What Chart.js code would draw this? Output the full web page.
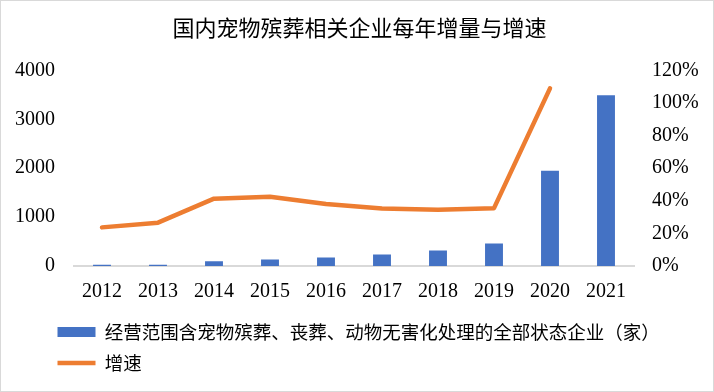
<!doctype html>
<html>
  <head>
    <title>国内宠物殡葬相关企业每年增量与增速</title>
    <style>
      body { margin: 0; background: #fff; }
      #box { width: 714px; height: 392px; box-sizing: border-box; border: 1px solid #d9d9d9; }
    </style>
  </head>
  <body>
    <div id="box">
      <canvas id="myChart" width="712" height="390"></canvas>
    </div>
  </body>
  <script src="https://cdn.jsdelivr.net/npm/chart.js"></script>
  <script>
    const years = ['2012', '2013', '2014', '2015', '2016', '2017', '2018', '2019', '2020', '2021'];
    const companies = [25, 25, 95, 135, 175, 237, 318, 461, 1950, 3490];
    const growth = [0.237, 0.266, 0.413, 0.425, 0.38, 0.353, 0.345, 0.355, 1.09, null];
    const leftTicks = [0, 1000, 2000, 3000, 4000];
    const rightTicks = [0, 0.2, 0.4, 0.6, 0.8, 1.0, 1.2];

    const tickFont = { family: "'Liberation Serif', 'Times New Roman', serif", size: 20 };
    const cjkFont = "'Noto Sans CJK SC', sans-serif";

    // legend sits further right than the layout padding would put it
    const legendShift = {
      id: 'legendShift',
      afterLayout(chart) {
        chart.legend.left = 44;
      }
    };

    const ctx = document.getElementById('myChart');
    const chart = new Chart(ctx, {
      type: 'bar',
      data: {
        labels: years,
        datasets: [{
          label: '经营范围含宠物殡葬、丧葬、动物无害化处理的全部状态企业（家）',
          data: companies,
          backgroundColor: '#4472C4',
          borderWidth: 0,
          barPercentage: 0.32,
          categoryPercentage: 1,
          yAxisID: 'y',
          pointStyle: 'rect',
          order: 0
        }, {
          type: 'line',
          label: '增速',
          data: growth,
          borderColor: '#ED7D31',
          backgroundColor: '#ED7D31',
          borderWidth: 4.5,
          borderCapStyle: 'round',
          borderJoinStyle: 'round',
          pointRadius: 0,
          pointStyle: 'line',
          tension: 0,
          yAxisID: 'y1',
          order: 1
        }]
      },
      plugins: [legendShift],
      options: {
        responsive: false,
        animation: false,
        layout: { padding: { left: 14, right: 9, top: 0, bottom: 8.75 } },
        plugins: {
          title: {
            display: true,
            text: '国内宠物殡葬相关企业每年增量与增速',
            color: '#000',
            font: { family: cjkFont, size: 22, weight: 'normal' },
            padding: { top: 13, bottom: 30 }
          },
          legend: {
            position: 'bottom',
            align: 'start',
            labels: {
              usePointStyle: true,
              pointStyleWidth: 38,
              boxHeight: 10,
              padding: 12.5,
              color: '#000',
              font: { family: cjkFont, size: 18.5 }
            }
          },
          tooltip: { enabled: false }
        },
        scales: {
          x: {
            grid: { display: false, drawTicks: false },
            border: { display: true, color: '#d9d9d9', width: 2 },
            ticks: { color: '#000', font: tickFont, padding: 14, maxRotation: 0 },
            afterFit: (s) => { s.height = 44.25; }
          },
          y: {
            position: 'left',
            min: 0,
            max: 4000,
            grid: { display: false, drawTicks: false },
            border: { display: false },
            afterBuildTicks: (s) => { s.ticks = leftTicks.map(v => ({ value: v })); },
            ticks: { color: '#000', font: tickFont, padding: 19, callback: (v) => String(v) },
            afterFit: (s) => { s.width = 59; }
          },
          y1: {
            position: 'right',
            min: 0,
            max: 1.2,
            grid: { display: false, drawTicks: false },
            border: { display: false },
            afterBuildTicks: (s) => { s.ticks = rightTicks.map(v => ({ value: v })); },
            ticks: {
              color: '#000',
              font: tickFont,
              padding: 18,
              callback: (v) => Math.round(v * 100) + '%'
            },
            afterFit: (s) => { s.width = 70; }
          }
        }
      }
    });
  </script>
</html>
